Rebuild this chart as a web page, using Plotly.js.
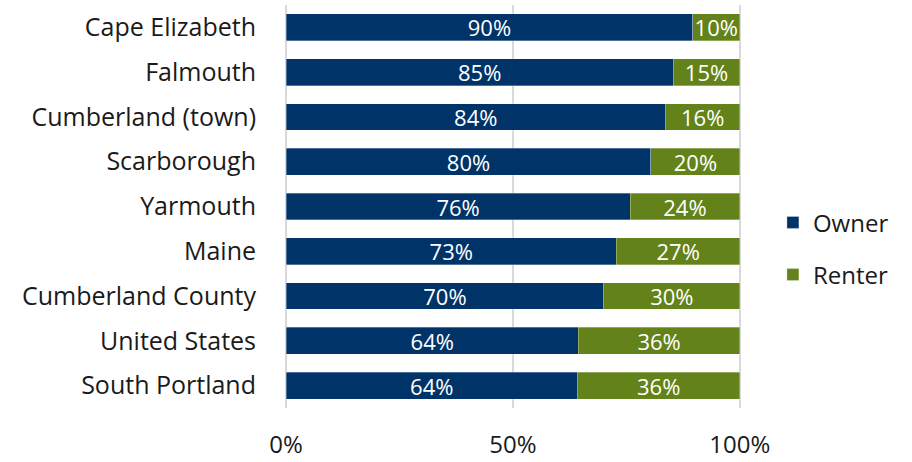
<!DOCTYPE html>
<html>
<head>
<meta charset="utf-8">
<script src="https://cdn.plot.ly/plotly-3.0.1.min.js"></script>
<style>html,body{margin:0;padding:0;background:#fff;}#chart{width:912px;height:462px;}</style>
</head>
<body>
<div id="chart"></div>
<script>
var categories = ["Cape Elizabeth","Falmouth","Cumberland (town)","Scarborough","Yarmouth","Maine","Cumberland County","United States","South Portland"];
var ownerValues = [89.6, 85.3, 83.6, 80.4, 75.8, 72.8, 70.0, 64.4, 64.2];
var renterValues = [10.4, 14.7, 16.4, 19.6, 24.2, 27.2, 30.0, 35.6, 35.8];
var xTickVals = [0, 50, 100];
var xTickText = ["0%", "50%", "100%"];

var font = "'Open Sans', 'Noto Sans', sans-serif";
var traces = [
  {type:'bar', orientation:'h', name:'Owner', legendgroup:'o', y:categories, x:ownerValues,
   marker:{color:'#003469', line:{color:'rgba(255,255,255,0.5)', width:0.6}},
   texttemplate:'%{x:.0f}%', textposition:'inside', insidetextanchor:'middle', constraintext:'none',
   textfont:{color:'#ffffff', size:22, family:font}, hoverinfo:'x+y'},
  {type:'bar', orientation:'h', name:'Renter', legendgroup:'r', y:categories, x:renterValues,
   marker:{color:'#638219', line:{color:'rgba(255,255,255,0.5)', width:0.6}},
   texttemplate:'%{x:.0f}%', textposition:'inside', insidetextanchor:'middle', constraintext:'none',
   textfont:{color:'#ffffff', size:22, family:font}, hoverinfo:'x+y'}
];
var layout = {
  width:912, height:462,
  margin:{l:285, r:171, t:5, b:54},
  barmode:'stack', bargap:0.4,
  paper_bgcolor:'#ffffff', plot_bgcolor:'#ffffff',
  font:{family:font, size:24, color:'#1a1a1a'},
  uniformtext:{mode:false},
  xaxis:{range:[-0.25,100.25], tickvals:xTickVals, ticktext:xTickText, showgrid:true,
         gridcolor:'#d9d9d9', gridwidth:1.5, zeroline:false, showline:false,
         ticks:'', ticklabelstandoff:20, tickfont:{size:24, color:'#1a1a1a'}, fixedrange:true},
  yaxis:{autorange:'reversed', type:'category', showgrid:false, zeroline:false, showline:false,
         ticks:'', ticklabelstandoff:28, tickfont:{size:25, color:'#1a1a1a'}, fixedrange:true},
  showlegend:true,
  legend:{x:1.07, xanchor:'left', xref:'paper', y:0.395, yanchor:'middle', traceorder:'grouped',
          font:{size:24, color:'#1a1a1a'}, tracegroupgap:18, itemwidth:30, bgcolor:'rgba(0,0,0,0)'}
};
Plotly.newPlot('chart', traces, layout, {displayModeBar:false, staticPlot:true});
</script>
</body>
</html>
